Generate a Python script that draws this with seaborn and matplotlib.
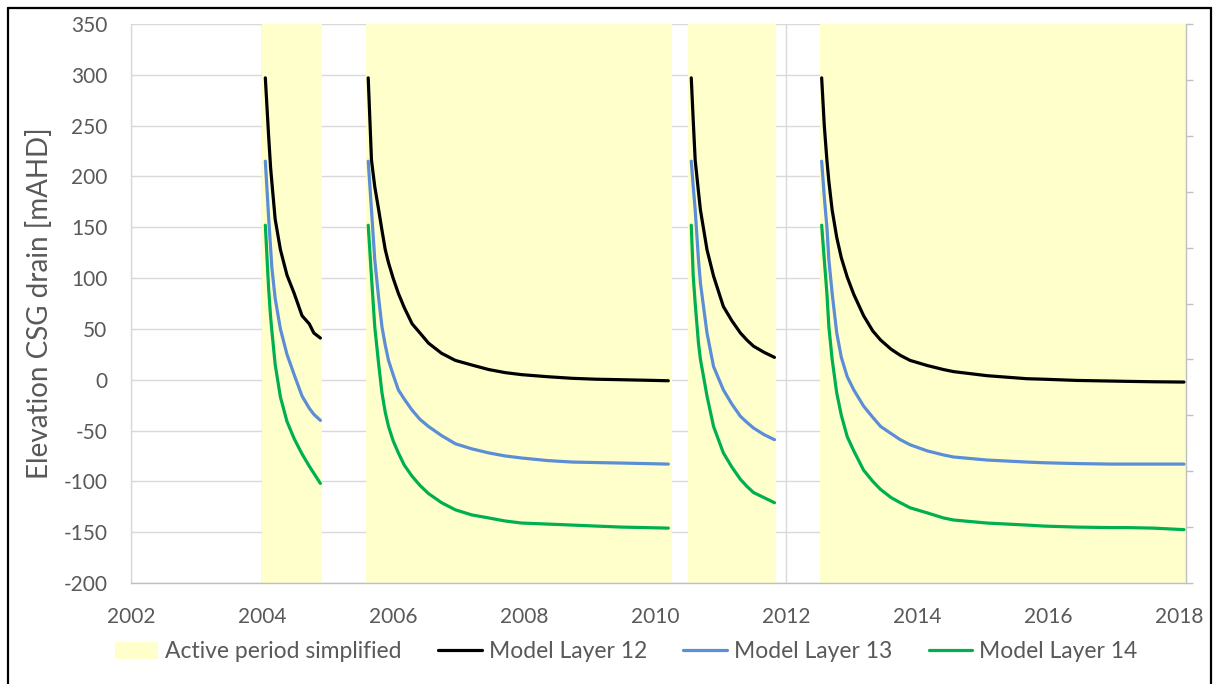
import matplotlib
matplotlib.use("Agg")
import matplotlib.pyplot as plt
from matplotlib.lines import Line2D
from matplotlib.patches import Patch
import numpy as np
import pandas as pd
import seaborn as sns

# Active (pumping) periods, decimal years
span_start = [2004.0, 2005.58, 2010.5, 2012.51]
span_end = [2004.92, 2010.26, 2011.85, 2018.1]

# Period 1
t_p1 = [2004.05, 2004.10, 2004.13, 2004.15, 2004.20, 2004.28, 2004.38,
        2004.49, 2004.61, 2004.72, 2004.79, 2004.89]
l12_p1 = [297, 240, 209, 194, 158, 128, 103, 85, 63, 55, 46, 41]
l13_p1 = [215, 160, 130, 110, 80, 50, 25, 5, -16, -28, -34, -40]
l14_p1 = [152, 90, 62, 48, 15, -17, -41, -58, -73, -85, -92, -102]

# Period 2
t_p2 = [2005.62, 2005.67, 2005.72, 2005.78, 2005.83, 2005.88, 2005.93,
        2006.00, 2006.08, 2006.17, 2006.29, 2006.41, 2006.54, 2006.74,
        2006.95, 2007.20, 2007.46, 2007.71, 2007.96, 2008.35, 2008.73,
        2009.10, 2009.49, 2009.85, 2010.20]
l12_p2 = [297, 216, 190, 167, 147, 128, 115, 100, 85, 71, 55, 46, 36, 26,
          19, 14.5, 10, 7, 5, 3, 1.4, 0.5, 0, -0.5, -1]
l13_p2 = [215, 167, 118, 80, 52, 34, 19, 5, -10, -19, -30, -39, -46, -55,
          -63, -68, -72, -75, -77, -79.5, -81, -81.5, -82, -82.5, -83]
l14_p2 = [152, 101, 52, 15, -13, -32, -46, -60, -72, -84, -95, -104, -112,
          -121, -128, -133, -136, -139, -141, -142, -143, -144, -145,
          -145.5, -146]

# Period 3
t_p3 = [2010.55, 2010.58, 2010.61, 2010.66, 2010.69, 2010.79, 2010.89,
        2011.04, 2011.17, 2011.30, 2011.40, 2011.50, 2011.66, 2011.82]
l12_p3 = [297, 255, 216, 185, 167, 128, 102, 72, 58, 46, 39, 33, 27, 22]
l13_p3 = [215, 190, 167, 118, 95, 46, 13, -10, -24, -36, -42, -47.5, -54, -59]
l14_p3 = [152, 102, 75, 36, 20, -16, -46, -72, -86, -98, -105, -111, -116, -121]

# Period 4
t_p4 = [2012.54, 2012.58, 2012.62, 2012.65, 2012.70, 2012.77, 2012.84,
        2012.93, 2013.03, 2013.18, 2013.32, 2013.44, 2013.60, 2013.74,
        2013.89, 2014.15, 2014.40, 2014.55, 2015.06, 2015.67, 2015.93,
        2016.44, 2016.95, 2017.20, 2017.60, 2018.07]
l12_p4 = [297, 250, 216, 195, 167, 140, 120, 101, 84, 63, 48, 39, 30, 24, 19,
          14, 10, 8, 4, 1, 0.5, -0.7, -1.3, -1.6, -2, -2.3]
l13_p4 = [215, 180, 150, 118, 85, 46, 22, 3, -10, -26, -37, -46, -53, -59,
          -64, -70, -74, -76, -79, -81, -81.7, -82.5, -83, -83, -83, -83]
l14_p4 = [152, 118, 85, 52, 20, -13, -35, -56, -70, -89, -100, -108, -116,
          -121, -126, -131, -136, -138, -141, -143, -144, -145, -145.5,
          -145.5, -146, -147.5]

layer_names = ["Model Layer 12", "Model Layer 13", "Model Layer 14"]
span_label = "Active period simplified"
x_ticks = list(range(2002, 2019, 2))
y_ticks = list(range(-200, 351, 50))
y_title = "Elevation CSG drain [mAHD]"

periods = [
    (t_p1, [l12_p1, l13_p1, l14_p1]),
    (t_p2, [l12_p2, l13_p2, l14_p2]),
    (t_p3, [l12_p3, l13_p3, l14_p3]),
    (t_p4, [l12_p4, l13_p4, l14_p4]),
]
rows = []
for pi, (t, series) in enumerate(periods):
    for name, vals in zip(layer_names, series):
        for x, y in zip(t, vals):
            rows.append({"year": x, "elev": y, "layer": name, "period": pi})
df = pd.DataFrame(rows)

sns.set_theme(style="white")
plt.rcParams["font.family"] = ["Lato", "DejaVu Sans"]
plt.rcParams["axes.unicode_minus"] = False

text_col = "#595959"
grid_col = "#D9D9D9"
axis_col = "#BFBFBF"
fill_col = "#FFFFCC"
palette = {"Model Layer 12": "#000000",
           "Model Layer 13": "#5B8ED6",
           "Model Layer 14": "#00B050"}

W, H = 1215, 684
fig = plt.figure(figsize=(W / 100, H / 100), dpi=100)
fig.patch.set_facecolor("white")
ax = fig.add_axes([131 / W, 1 - 583 / H, (1186 - 131) / W, (583 - 24) / H])

# gridlines sit underneath the shaded periods
for yv in y_ticks:
    ax.axhline(yv, color=grid_col, lw=1.0, zorder=0)
for xv in x_ticks:
    ax.axvline(xv, color=grid_col, lw=1.0, zorder=0)

for s, e in zip(span_start, span_end):
    ax.axvspan(s, e, color=fill_col, lw=0, zorder=1)

sns.lineplot(data=df, x="year", y="elev", hue="layer", units="period",
             estimator=None, palette=palette, lw=2.3, legend=False,
             ax=ax, zorder=3)

ax.set_xlim(2002, 2018.1)
ax.set_ylim(-200, 350)
ax.set_xticks(x_ticks)
ax.set_yticks(y_ticks)
ax.set_xlabel("")
ax.set_ylabel("")
ax.tick_params(axis="x", direction="in", length=5.5, width=1, color=axis_col,
               pad=17, labelsize=15, labelcolor=text_col)
ax.tick_params(axis="y", length=0, pad=17, labelsize=15, labelcolor=text_col)
ax.spines["top"].set_visible(False)
ax.spines["right"].set_visible(False)
ax.spines["left"].set_color(grid_col)
ax.spines["bottom"].set_color(axis_col)
for sp in ("left", "bottom"):
    ax.spines[sp].set_linewidth(1.0)

# secondary axis on the right (unlabelled)
ax2 = ax.twinx()
ax2.set_ylim(0, 1)
ax2.set_yticks(np.linspace(0, 1, 11))
ax2.set_yticklabels([])
ax2.tick_params(axis="y", direction="out", length=5, width=1, color=axis_col)
for sp in ("top", "left", "bottom"):
    ax2.spines[sp].set_visible(False)
ax2.spines["right"].set_color(axis_col)
ax2.spines["right"].set_linewidth(1.0)
ax2.grid(False)

fig.text(40 / W, 1 - 303 / H, y_title, rotation=90, ha="center", va="center",
         fontsize=20, color=text_col)

handles = [Patch(facecolor=fill_col, edgecolor="none", label=span_label)]
handles += [Line2D([], [], color=palette[n], lw=2.3, label=n) for n in layer_names]
leg = fig.legend(handles=handles, loc="center", bbox_to_anchor=(626 / W, 1 - 652 / H),
                 ncol=4, frameon=False, fontsize=16.5, handlelength=1.9,
                 handletextpad=0.3, columnspacing=1.6, labelcolor=text_col)

# outer frame
frame_kw = dict(transform=fig.transFigure, color="black", lw=1.6)
x0, x1, y1 = 7.5 / W, 1211 / W, 1 - 7.5 / H
fig.add_artist(Line2D([x0, x0], [-0.01, y1], **frame_kw))
fig.add_artist(Line2D([x0, x1], [y1, y1], **frame_kw))
fig.add_artist(Line2D([x1, x1], [y1, -0.01], **frame_kw))

fig.savefig("out.png", dpi=100)
